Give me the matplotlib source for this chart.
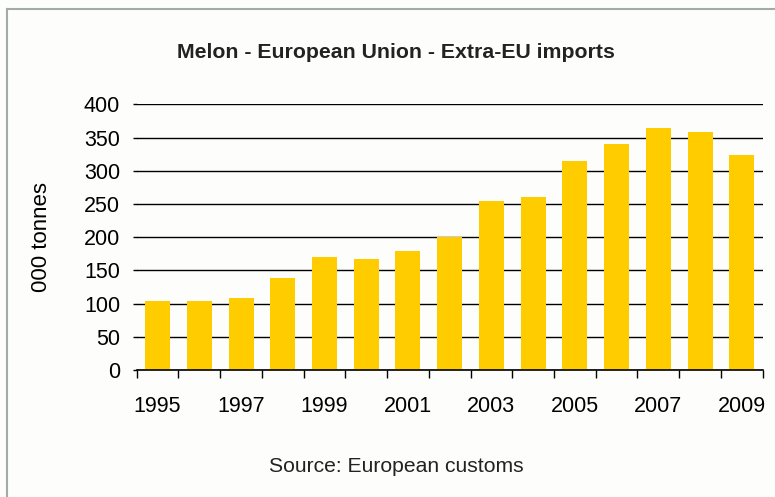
import matplotlib
matplotlib.use("Agg")
import matplotlib.pyplot as plt
from matplotlib.lines import Line2D

# Extra-EU melon imports, thousand tonnes
years = [1995, 1996, 1997, 1998, 1999, 2000, 2001, 2002,
         2003, 2004, 2005, 2006, 2007, 2008, 2009]
imports = [104, 104, 108, 138, 170, 167, 179, 200,
           254, 260, 314, 341, 365, 359, 323]
y_ticks = [0, 50, 100, 150, 200, 250, 300, 350, 400]

plt.rcParams['font.family'] = ['Liberation Sans', 'DejaVu Sans']

fig = plt.figure(figsize=(7.75, 4.97), dpi=100, facecolor='#fdfdfb')
ax = fig.add_axes([0.1764, 0.2555, 0.8077, 0.5346])
ax.set_facecolor('none')

pos = list(range(len(years)))
ax.bar(pos, imports, width=0.6, color='#ffcc00', zorder=2)

ax.set_xlim(-0.5, len(years) - 0.5)
ax.set_ylim(0, 400)
ax.set_yticks(y_ticks)
ax.set_yticklabels([str(v) for v in y_ticks], fontsize=15.5)
ax.grid(axis='y', color='black', linewidth=1.0, zorder=1)
ax.tick_params(axis='y', length=3, width=1.0, pad=9)

# labels every other year, tick marks between categories
ax.set_xticks(pos[::2])
ax.set_xticklabels([str(y) for y in years[::2]], fontsize=15.5)
ax.tick_params(axis='x', which='major', length=0, pad=19)
ax.set_xticks([p - 0.5 for p in pos] + [len(years) - 0.5], minor=True)
ax.tick_params(axis='x', which='minor', length=6, width=1.0, direction='out')

for side in ['left', 'right', 'top']:
    ax.spines[side].set_visible(False)
ax.spines['bottom'].set_linewidth(1.2)

fig.text(0.511, 0.895, "Melon - European Union - Extra-EU imports",
         ha='center', va='center', fontsize=15.3, fontweight='bold', color='#222222')
fig.text(0.054, 0.523, "000 tonnes", rotation=90, ha='center', va='center',
         fontsize=16)
fig.text(0.511, 0.062, "Source: European customs", ha='center', va='center',
         fontsize=15.2, color='#222222')

# thin frame on the top and left edges
fig.add_artist(Line2D([0.0085, 0.0085], [0.0, 0.981], transform=fig.transFigure,
                      color='#a3aba7', linewidth=1.5))
fig.add_artist(Line2D([0.0085, 1.0], [0.981, 0.981], transform=fig.transFigure,
                      color='#a3aba7', linewidth=1.5))

fig.savefig("out.png", dpi=100, facecolor=fig.get_facecolor())
